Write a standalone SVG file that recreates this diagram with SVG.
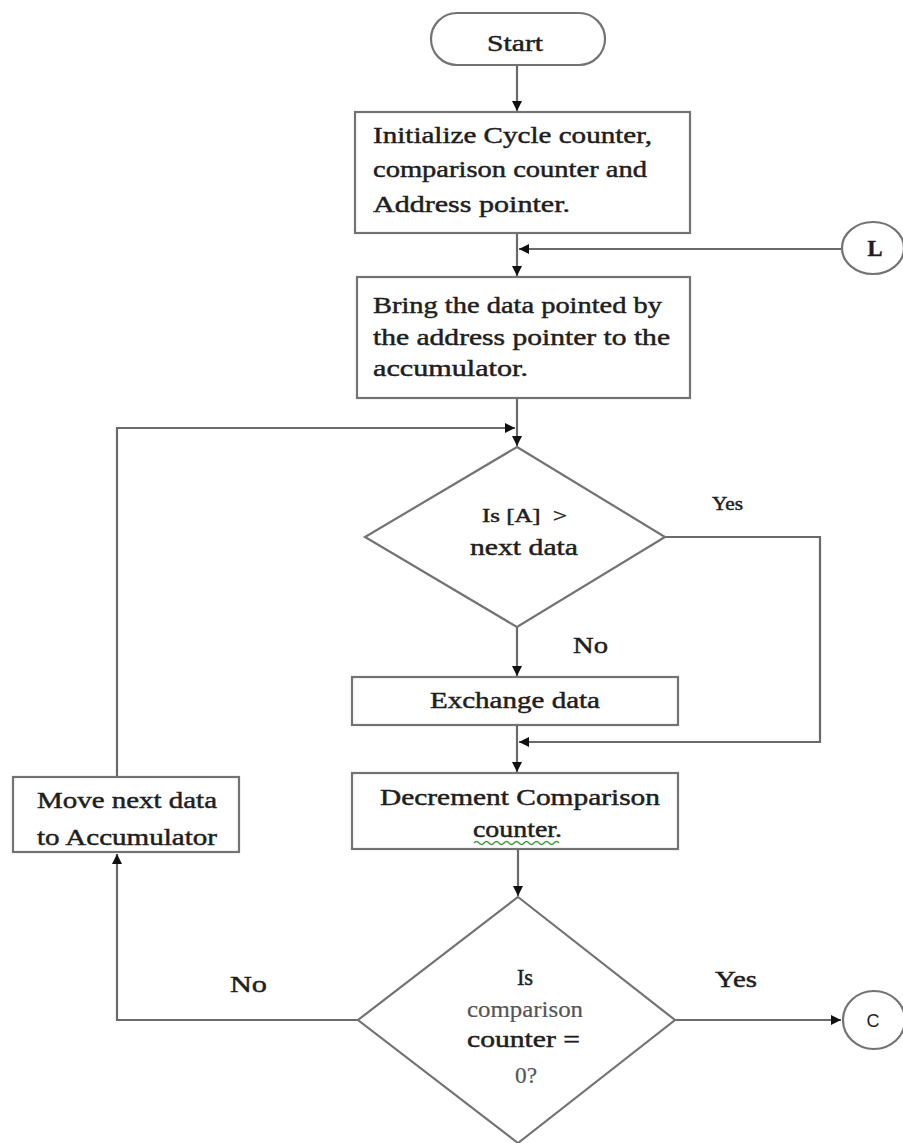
<svg xmlns="http://www.w3.org/2000/svg" width="903" height="1143" viewBox="0 0 903 1143">
<style>
.shape{fill:#fff;stroke:#737373;stroke-width:2.2}
.ln{fill:none;stroke:#6a6a6a;stroke-width:2.2}
.t{font-family:"Liberation Serif","Times New Roman",serif;font-size:22.5px;fill:#1e1e1e;stroke:#1e1e1e;stroke-width:0.45}
.s{font-size:18px}
.g{fill:#555;stroke:#555;stroke-width:0.2}
</style>
<defs>
<marker id="ah" viewBox="0 0 10 10" refX="10" refY="5" markerWidth="11" markerHeight="10" markerUnits="userSpaceOnUse" orient="auto">
<path d="M0,0 L10,5 L0,10 z" fill="#111"/>
</marker>
</defs>
<rect width="903" height="1143" fill="#fff"/>
<g id="connectors">
<path class="ln" d="M517,65 V111" marker-end="url(#ah)"/>
<path class="ln" d="M517,233 V276" marker-end="url(#ah)"/>
<path class="ln" d="M842,249 H519" marker-end="url(#ah)"/>
<path class="ln" d="M517,398 V446" marker-end="url(#ah)"/>
<path class="ln" d="M117,777 V428 H515" marker-end="url(#ah)"/>
<path class="ln" d="M517,627 V676" marker-end="url(#ah)"/>
<path class="ln" d="M665,537 H820 V742 H519" marker-end="url(#ah)"/>
<path class="ln" d="M517,725 V772" marker-end="url(#ah)"/>
<path class="ln" d="M518,849 V896" marker-end="url(#ah)"/>
<path class="ln" d="M358,1020 H117 V854" marker-end="url(#ah)"/>
<path class="ln" d="M675,1020 H841" marker-end="url(#ah)"/>
</g>
<g id="labels">
<text class="t s" x="712" y="510" textLength="31" lengthAdjust="spacingAndGlyphs">Yes</text>
<text class="t" x="573" y="653" textLength="35" lengthAdjust="spacingAndGlyphs">No</text>
<text class="t" x="230" y="992" textLength="37" lengthAdjust="spacingAndGlyphs">No</text>
<text class="t" x="715" y="987" textLength="42" lengthAdjust="spacingAndGlyphs">Yes</text>
</g>
<g id="start">
<rect class="shape" x="431" y="13" width="174" height="52" rx="26" ry="26"/>
<text class="t" x="487" y="51" textLength="56" lengthAdjust="spacingAndGlyphs">Start</text>
</g>
<g id="init">
<rect class="shape" x="355" y="112" width="335" height="121"/>
<text class="t" x="373" y="143" textLength="279" lengthAdjust="spacingAndGlyphs">Initialize Cycle counter,</text>
<text class="t" x="373" y="177" textLength="274" lengthAdjust="spacingAndGlyphs">comparison counter and</text>
<text class="t" x="373" y="212" textLength="197" lengthAdjust="spacingAndGlyphs">Address pointer.</text>
</g>
<g id="connL">
<ellipse class="shape" cx="873" cy="248" rx="31" ry="26"/>
<text class="t" x="875" y="256" text-anchor="middle" font-weight="bold" font-size="20">L</text>
</g>
<g id="bring">
<rect class="shape" x="357" y="277" width="333" height="121"/>
<text class="t" x="373" y="313" textLength="289" lengthAdjust="spacingAndGlyphs">Bring the data pointed by</text>
<text class="t" x="373" y="345" textLength="297" lengthAdjust="spacingAndGlyphs">the address pointer to the</text>
<text class="t" x="373" y="376" textLength="155" lengthAdjust="spacingAndGlyphs">accumulator.</text>
</g>
<g id="compare">
<polygon class="shape" points="517,447 665,537 517,627 365,537"/>
<text class="t s" x="482" y="522" textLength="85" lengthAdjust="spacingAndGlyphs" xml:space="preserve">Is [A]  &gt;</text>
<text class="t" x="470" y="555" textLength="108" lengthAdjust="spacingAndGlyphs">next data</text>
</g>
<g id="exchange">
<rect class="shape" x="352" y="677" width="326" height="48"/>
<text class="t" x="430" y="708" textLength="170" lengthAdjust="spacingAndGlyphs">Exchange data</text>
</g>
<g id="move">
<rect class="shape" x="13" y="777" width="226" height="75"/>
<text class="t" x="37" y="808" textLength="180" lengthAdjust="spacingAndGlyphs">Move next data</text>
<text class="t" x="37" y="845" textLength="180" lengthAdjust="spacingAndGlyphs">to Accumulator</text>
</g>
<g id="decrement">
<rect class="shape" x="352" y="773" width="326" height="76"/>
<text class="t" x="380" y="805" textLength="280" lengthAdjust="spacingAndGlyphs">Decrement Comparison</text>
<text class="t" x="473" y="837" textLength="89" lengthAdjust="spacingAndGlyphs">counter.</text>
<path d="M474,843 q2.5,-3 5,0 t5,0 t5,0 t5,0 t5,0 t5,0 t5,0 t5,0 t5,0 t5,0 t5,0 t5,0 t5,0 t5,0 t5,0 t5,0 t5,0" fill="none" stroke="#3a9a3a" stroke-width="1.3"/>
</g>
<g id="zero">
<polygon class="shape" points="518,897 675,1020 518,1143 358,1020"/>
<text class="t" x="525" y="985" text-anchor="middle">Is</text>
<text class="t g" x="467" y="1017" font-size="17" textLength="116" lengthAdjust="spacingAndGlyphs">comparison</text>
<text class="t" x="467" y="1047" textLength="113" lengthAdjust="spacingAndGlyphs">counter =</text>
<text class="t g" x="515" y="1083" font-size="17" textLength="22" lengthAdjust="spacingAndGlyphs">0?</text>
</g>
<g id="connC">
<ellipse class="shape" cx="874" cy="1020" rx="31" ry="29"/>
<text x="873" y="1027" text-anchor="middle" font-family="Liberation Sans, Arial, sans-serif" font-size="18" fill="#222">C</text>
</g>
</svg>
